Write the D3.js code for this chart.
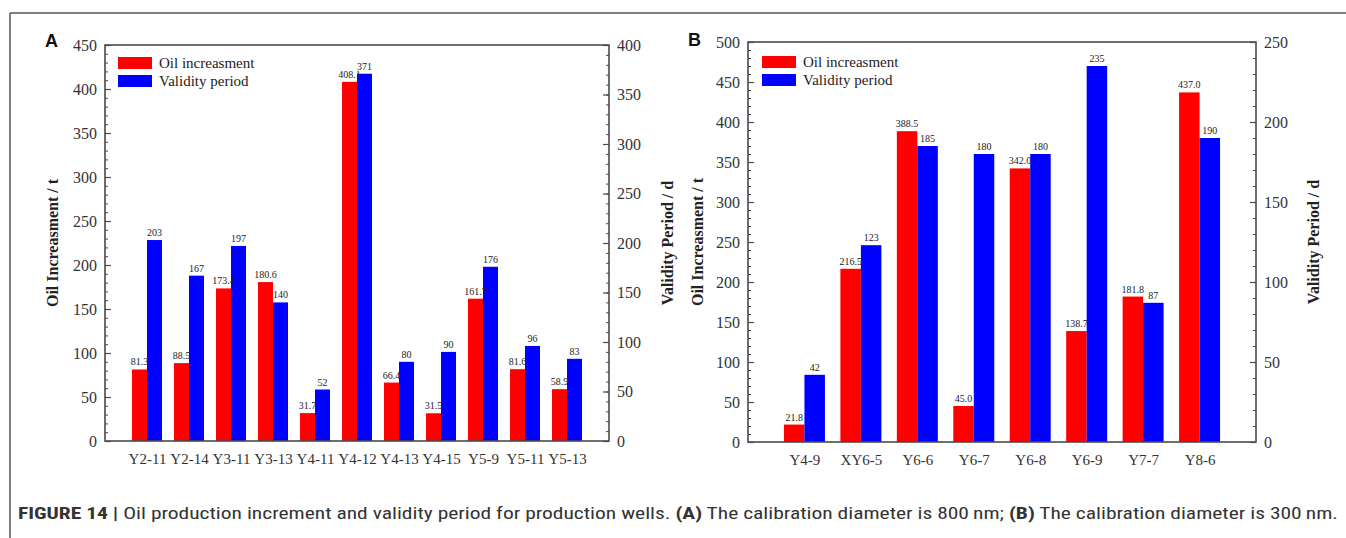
<!DOCTYPE html>
<html>
<head>
<meta charset="utf-8">
<script src="https://cdn.jsdelivr.net/npm/d3@7/dist/d3.min.js"></script>
<style>
  html, body { margin: 0; padding: 0; background: #fff; }
  svg { display: block; }
</style>
</head>
<body>
<svg id="chart" width="1346" height="538"></svg>
<script>
// ---------- Data ----------
const categoriesA = ["Y2-11","Y2-14","Y3-11","Y3-13","Y4-11","Y4-12","Y4-13","Y4-15","Y5-9","Y5-11","Y5-13"];
const oilA      = [81.3, 88.5, 173.4, 180.6, 31.7, 408.1, 66.4, 31.5, 161.7, 81.6, 58.9];
const validityA = [203, 167, 197, 140, 52, 371, 80, 90, 176, 96, 83];
const oilTicksA = [0,50,100,150,200,250,300,350,400,450];
const valTicksA = [0,50,100,150,200,250,300,350,400];

const categoriesB = ["Y4-9","XY6-5","Y6-6","Y6-7","Y6-8","Y6-9","Y7-7","Y8-6"];
const oilB      = [21.8, 216.5, 388.5, 45.0, 342.0, 138.7, 181.8, 437.0];
const validityB = [42, 123, 185, 180, 180, 235, 87, 190];
const oilTicksB = [0,50,100,150,200,250,300,350,400,450,500];
const valTicksB = [0,50,100,150,200,250];

const seriesNames = ["Oil increasment", "Validity period"];
const caption = [
  {t: "FIGURE 14 | ", b: true},
  {t: "Oil production increment and validity period for production wells. ", b: false},
  {t: "(A)", b: true},
  {t: " The calibration diameter is 800\u2009nm; ", b: false},
  {t: "(B)", b: true},
  {t: " The calibration diameter is 300\u2009nm.", b: false}
];

// ---------- Drawing ----------
const svg = d3.select("#chart");
const SERIF = "'Liberation Serif', 'Times New Roman', serif";
const AXIS = "#4a4a4a";
const TXT = "#222";
const RED = "#ff0000", BLUE = "#0000ff";

// outer figure frame (top + left)
svg.append("line").attr("x1", 10).attr("x2", 1346).attr("y1", 13).attr("y2", 13)
  .attr("stroke", "#555").attr("stroke-width", 1.5);
svg.append("line").attr("x1", 10).attr("x2", 10).attr("y1", 13).attr("y2", 538)
  .attr("stroke", "#555").attr("stroke-width", 1.5);

function panel(cfg) {
  const g = svg.append("g");
  const n = cfg.cats.length;
  const x = d3.scaleLinear().domain([0, n + 1]).range([cfg.x0, cfg.x1]);
  const yL = d3.scaleLinear().domain([0, cfg.leftMax]).range([cfg.y1, cfg.y0]);
  const yR = d3.scaleLinear().domain([0, cfg.rightMax]).range([cfg.y1, cfg.y0]);
  const step = x(1) - x(0);
  const bw = step * cfg.barFrac;

  // minor ticks
  const minorL = d3.range(0, cfg.leftMax + 0.001, 10);
  const minorR = d3.range(0, cfg.rightMax + 0.001, 10);
  g.append("g").attr("transform", `translate(${cfg.x0},0)`)
    .call(d3.axisLeft(yL).tickValues(minorL).tickSize(-3).tickFormat(""))
    .call(s => s.select(".domain").remove())
    .call(s => s.selectAll("line").attr("stroke", AXIS).attr("stroke-width", 1));
  g.append("g").attr("transform", `translate(${cfg.x1},0)`)
    .call(d3.axisRight(yR).tickValues(minorR).tickSize(-3).tickFormat(""))
    .call(s => s.select(".domain").remove())
    .call(s => s.selectAll("line").attr("stroke", AXIS).attr("stroke-width", 1));

  // major ticks + labels
  const axL = g.append("g").attr("transform", `translate(${cfg.x0},0)`)
    .call(d3.axisLeft(yL).tickValues(cfg.leftTicks).tickSize(-6).tickPadding(8).tickFormat(d3.format("d")));
  const axR = g.append("g").attr("transform", `translate(${cfg.x1},0)`)
    .call(d3.axisRight(yR).tickValues(cfg.rightTicks).tickSize(-6).tickPadding(8).tickFormat(d3.format("d")));
  [axL, axR].forEach(a => {
    a.select(".domain").remove();
    a.selectAll("line").attr("stroke", AXIS).attr("stroke-width", 1.2);
    a.selectAll("text").attr("font-family", SERIF).attr("font-size", 16).attr("fill", "#333");
  });

  // x axis labels
  const axB = g.append("g").attr("transform", `translate(0,${cfg.y1})`)
    .call(d3.axisBottom(x).tickValues(d3.range(1, n + 1)).tickSize(0).tickPadding(12)
      .tickFormat(i => cfg.cats[i - 1]));
  axB.select(".domain").remove();
  axB.selectAll("text").attr("font-family", SERIF).attr("font-size", 15).attr("fill", "#333");

  // bars
  const rows = cfg.cats.map((c, i) => ({i: i + 1, oil: cfg.oil[i], val: cfg.val[i]}));
  g.selectAll(".bo").data(rows).join("rect")
    .attr("x", d => x(d.i) - bw).attr("width", bw)
    .attr("y", d => yL(d.oil)).attr("height", d => yL(0) - yL(d.oil))
    .attr("fill", RED);
  g.selectAll(".bv").data(rows).join("rect")
    .attr("x", d => x(d.i)).attr("width", bw)
    .attr("y", d => yR(d.val)).attr("height", d => yR(0) - yR(d.val))
    .attr("fill", BLUE);

  // value labels
  g.selectAll(".lo").data(rows).join("text")
    .attr("x", d => x(d.i) - bw / 2).attr("y", d => yL(d.oil) - 4)
    .attr("text-anchor", "middle").attr("font-family", SERIF).attr("font-size", 10)
    .attr("fill", TXT).text(d => d.oil.toFixed(1));
  g.selectAll(".lv").data(rows).join("text")
    .attr("x", d => x(d.i) + bw / 2).attr("y", d => yR(d.val) - 4)
    .attr("text-anchor", "middle").attr("font-family", SERIF).attr("font-size", 10)
    .attr("fill", TXT).text(d => d.val);

  // plot frame
  g.append("rect").attr("x", cfg.x0).attr("y", cfg.y0)
    .attr("width", cfg.x1 - cfg.x0).attr("height", cfg.y1 - cfg.y0)
    .attr("fill", "none").attr("stroke", AXIS).attr("stroke-width", 1.6);

  // axis titles
  const cy = (cfg.y0 + cfg.y1) / 2;
  g.append("text").attr("transform", `translate(${cfg.titleLX},${cy}) rotate(-90)`)
    .attr("text-anchor", "middle").attr("dominant-baseline", "central")
    .attr("font-family", SERIF).attr("font-weight", "bold").attr("font-size", 16)
    .attr("fill", TXT).text("Oil Increasment / t");
  g.append("text").attr("transform", `translate(${cfg.titleRX},${cy}) rotate(-90)`)
    .attr("text-anchor", "middle").attr("dominant-baseline", "central")
    .attr("font-family", SERIF).attr("font-weight", "bold").attr("font-size", 16)
    .attr("fill", TXT).text("Validity Period / d");

  // legend
  [RED, BLUE].forEach((c, k) => {
    g.append("rect").attr("x", cfg.legX).attr("y", cfg.legY + k * 18)
      .attr("width", 34).attr("height", 12).attr("fill", c);
    g.append("text").attr("x", cfg.legX + 41).attr("y", cfg.legY + 6 + k * 18)
      .attr("dominant-baseline", "central").attr("font-family", SERIF).attr("font-size", 15)
      .attr("fill", TXT).text(seriesNames[k]);
  });

  // panel letter
  g.append("text").attr("x", cfg.letterX).attr("y", cfg.letterY)
    .attr("font-family", "'Liberation Sans', Arial, sans-serif").attr("font-weight", "bold")
    .attr("font-size", 18).attr("fill", "#111").text(cfg.letter);
}

panel({
  cats: categoriesA, oil: oilA, val: validityA,
  leftMax: 450, rightMax: 400, leftTicks: oilTicksA, rightTicks: valTicksA,
  x0: 105, x1: 609, y0: 45, y1: 441, barFrac: 0.357,
  titleLX: 52, titleRX: 667, legX: 118, legY: 57,
  letter: "A", letterX: 45, letterY: 47
});
panel({
  cats: categoriesB, oil: oilB, val: validityB,
  leftMax: 500, rightMax: 250, leftTicks: oilTicksB, rightTicks: valTicksB,
  x0: 748, x1: 1256, y0: 42, y1: 442, barFrac: 0.363,
  titleLX: 697, titleRX: 1313, legX: 762, legY: 56,
  letter: "B", letterX: 688, letterY: 46
});

// caption
const cap = svg.append("text").attr("x", 18).attr("y", 519)
  .attr("font-family", "'Liberation Sans Narrow', 'Arial Narrow', 'Roboto Condensed', 'Liberation Sans', Arial, sans-serif")
  .attr("font-size", 16).attr("fill", "#333");
caption.forEach(p => cap.append("tspan").attr("font-weight", p.b ? "bold" : "normal").text(p.t));
const len = cap.node().getComputedTextLength();
if (Math.abs(len - 1320) > 20) cap.attr("textLength", 1320).attr("lengthAdjust", "spacingAndGlyphs");
</script>
</body>
</html>
